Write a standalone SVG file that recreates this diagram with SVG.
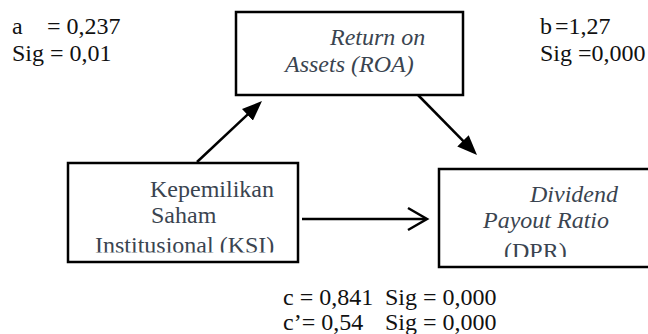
<svg xmlns="http://www.w3.org/2000/svg" width="648" height="334" viewBox="0 0 648 334">
<style>
.box{fill:#fff;stroke:#000;stroke-width:2.5}
.t{font-family:'Liberation Serif','DejaVu Serif',serif;font-size:24px}
.bt{fill:#3a4450}
.st{fill:#111}
.it{font-style:italic}
.con{stroke:#000;stroke-width:2.5;fill:none}
</style>
<defs>
<marker id="ah" viewBox="0 0 20 16" refX="10" refY="8" markerWidth="20" markerHeight="16" markerUnits="userSpaceOnUse" orient="auto">
<path d="M0,0 L20,8 L0,16 z" fill="#000"/>
</marker>
<clipPath id="clipKSI"><rect x="60" y="150" width="250" height="102.5"/></clipPath>
<clipPath id="clipDPR"><rect x="430" y="160" width="230" height="97"/></clipPath>
</defs>
<g id="stats-a" class="t st">
<text x="12" y="34">a<tspan x="47">= 0,237</tspan></text>
<text x="12" y="61">Sig = 0,01</text>
</g>
<g id="stats-b" class="t st">
<text x="540" y="34">b<tspan x="555">=1,27</tspan></text>
<text x="540" y="61">Sig =0,000</text>
</g>
<g id="stats-c" class="t st">
<text x="283" y="305">c = 0,841<tspan x="385">Sig = 0,000</tspan></text>
<text x="283" y="330">c’= 0,54<tspan x="385">Sig = 0,000</tspan></text>
</g>
<g id="node-roa">
<rect class="box" x="236" y="12" width="227" height="83"/>
<text class="t bt it" x="330" y="45">Return on</text>
<text class="t bt it" x="285" y="72">Assets (ROA)</text>
</g>
<g id="node-ksi">
<rect class="box" x="68" y="163" width="230" height="99"/>
<g clip-path="url(#clipKSI)">
<text class="t bt" x="150" y="197">Kepemilikan</text>
<text class="t bt" x="151" y="223">Saham</text>
<text class="t bt" x="95" y="253">Institusional (KSI)</text>
</g>
</g>
<g id="node-dpr">
<rect class="box" x="439" y="169" width="215" height="98"/>
<g clip-path="url(#clipDPR)">
<text class="t bt it" x="530" y="202">Dividend</text>
<text class="t bt it" x="483" y="228">Payout Ratio</text>
<text class="t bt" x="504" y="259">(DPR)</text>
</g>
</g>
<g id="connectors">
<line class="con" x1="197" y1="162" x2="254.7" y2="107.9" marker-end="url(#ah)"/>
<line class="con" x1="418" y1="95" x2="470" y2="147.9" marker-end="url(#ah)"/>
<line class="con" x1="302" y1="219" x2="426" y2="219"/>
<polyline class="con" points="408,208 427,219 408,230"/>
</g>
</svg>
